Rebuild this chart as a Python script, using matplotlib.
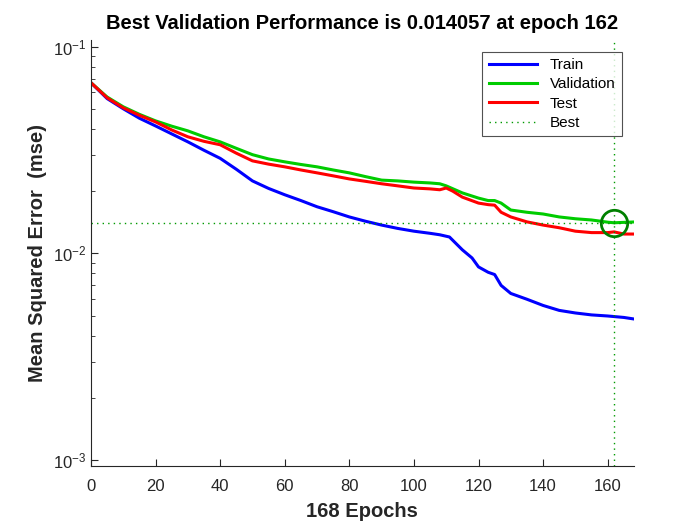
import numpy as np
import matplotlib.pyplot as plt
from matplotlib.ticker import LogLocator, NullFormatter

plt.rcParams['font.family'] = ['Liberation Sans', 'DejaVu Sans']

# values (mse per epoch)
epochs_tr = [0, 5, 10, 15, 20, 25, 30, 35, 40, 45, 50, 55, 60, 65, 70, 75, 80, 85, 90, 95,
             100, 105, 108, 111, 115, 118, 120, 123, 125, 127, 130, 135, 140, 145, 150, 155, 160, 165, 168]
train = [0.0668, 0.0560, 0.0500, 0.0450, 0.0413, 0.0378, 0.0346, 0.0315, 0.0288, 0.0255, 0.0224, 0.0206,
         0.0192, 0.0180, 0.0168, 0.0159, 0.0150, 0.0143, 0.0137, 0.0132,
         0.0128, 0.0125, 0.0123, 0.0120, 0.0104, 0.0095, 0.0086, 0.0081, 0.0079, 0.0070, 0.0064, 0.0060,
         0.0056, 0.0053, 0.00515, 0.00504, 0.00498, 0.00490, 0.00482]

epochs_va = [0, 5, 10, 15, 20, 25, 30, 35, 40, 45, 50, 55, 60, 65, 70, 75, 80, 85, 90, 95,
             100, 105, 108, 110, 115, 120, 123, 125, 127, 130, 135, 140, 145, 150, 155, 160, 162, 165, 168]
valid = [0.0668, 0.0570, 0.0511, 0.0470, 0.0437, 0.0412, 0.0391, 0.0366, 0.0346, 0.0322, 0.0300, 0.0286,
         0.0277, 0.0269, 0.0262, 0.0253, 0.0245, 0.0235, 0.0226, 0.0224,
         0.0221, 0.0219, 0.0217, 0.0212, 0.0196, 0.0185, 0.0180, 0.0180, 0.0175, 0.0162, 0.0158,
         0.0155, 0.0150, 0.0147, 0.0145, 0.01415, 0.014057, 0.01412, 0.01418]

epochs_te = [0, 5, 10, 15, 20, 25, 30, 35, 40, 45, 50, 55, 60, 65, 70, 75, 80, 85, 90, 95,
             100, 105, 108, 110, 112, 115, 120, 123, 125, 127, 130, 135, 140, 145, 150, 155, 160, 162, 165, 168]
test = [0.0668, 0.0565, 0.0505, 0.0465, 0.0432, 0.0395, 0.0366, 0.0348, 0.0335, 0.0305, 0.0280, 0.0270,
        0.0262, 0.0253, 0.0245, 0.0237, 0.0229, 0.0223, 0.0217, 0.0212,
        0.0207, 0.0205, 0.0203, 0.0207, 0.0200, 0.0187, 0.0175, 0.0172, 0.0171, 0.0158, 0.0150, 0.0142,
        0.0137, 0.0133, 0.0128, 0.0126, 0.0126, 0.0127, 0.0124, 0.0124]

best_epoch = 162
best_perf = 0.014057
n_epochs = 168

fig = plt.figure(figsize=(7, 5.25), dpi=100)
ax = fig.add_axes([0.13, 0.112, 0.775, 0.812])

ax.semilogy(epochs_tr, train, color=(0, 0, 1), lw=2.2, label="Train")
ax.semilogy(epochs_va, valid, color=(0, 0.8, 0), lw=2.2, label="Validation")
ax.semilogy(epochs_te, test, color=(1, 0, 0), lw=2.2, label="Test")

ymin, ymax = 10 ** -3.029, 10 ** -0.968
best_col = (0, 0.6, 0)
ax.plot([best_epoch, best_epoch], [ymin, ymax], color=best_col, lw=1, ls=(0, (1, 3)), label="Best")
ax.plot([0, n_epochs], [best_perf, best_perf], color=best_col, lw=1, ls=(0, (1, 3)))
ax.plot(best_epoch, best_perf, 'o', ms=19, mfc='none', mec=(0, 0.5, 0), mew=2)

ax.set_xlim(0, n_epochs)
ax.set_ylim(ymin, ymax)
ax.set_xticks(np.arange(0, 161, 20))
ax.yaxis.set_major_locator(LogLocator(base=10, numticks=10))
ax.yaxis.set_minor_locator(LogLocator(base=10, subs=np.arange(2, 10), numticks=10))
ax.yaxis.set_minor_formatter(NullFormatter())

dark = (0.15, 0.15, 0.15)
for s in ['top', 'right']:
    ax.spines[s].set_visible(False)
for s in ['left', 'bottom']:
    ax.spines[s].set_color(dark)
ax.tick_params(which='both', direction='in', colors=dark, labelsize=12)
ax.tick_params(which='major', length=5)
ax.tick_params(which='minor', length=3)
ax.tick_params(axis='x', pad=9)

ax.set_title("Best Validation Performance is 0.014057 at epoch 162", fontsize=14.5, fontweight='bold',
             color='black', pad=8)
ax.set_xlabel("168 Epochs", fontsize=14.5, fontweight='bold', color=dark, labelpad=6)
ax.set_ylabel("Mean Squared Error  (mse)", fontsize=14.5, fontweight='bold', color=dark)

leg = ax.legend(loc='upper right', bbox_to_anchor=(0.978, 0.972), borderaxespad=0, fontsize=11,
                frameon=True, fancybox=False, edgecolor=dark, handlelength=3.2,
                borderpad=0.4, labelspacing=0.35)
leg.get_frame().set_linewidth(0.8)

fig.savefig("out.png", dpi=100)
